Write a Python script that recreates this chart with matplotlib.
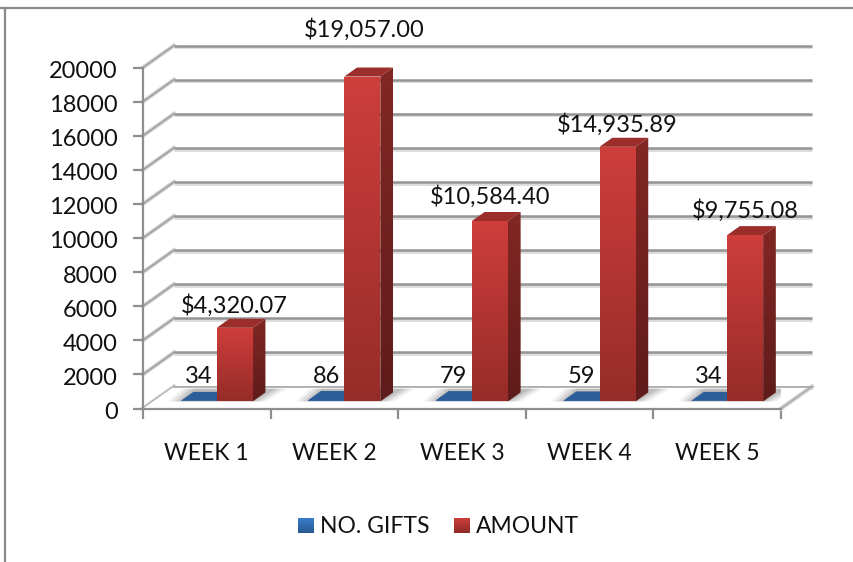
import matplotlib
matplotlib.use("Agg")
import matplotlib.pyplot as plt
import numpy as np
from matplotlib.colors import LinearSegmentedColormap
from matplotlib.lines import Line2D
from matplotlib.patches import Polygon
from matplotlib.transforms import ScaledTranslation

WEEKS = ["WEEK 1", "WEEK 2", "WEEK 3", "WEEK 4", "WEEK 5"]
GIFTS = [34, 86, 79, 59, 34]
AMOUNT = [4320.07, 19057.00, 10584.40, 14935.89, 9755.08]
Y_TICKS = list(range(0, 20001, 2000))

W, H = 854, 562
LEFT, RIGHT, BOTTOM, TOP = 143, 781, 408.5, 67.5

# oblique projection, depth goes from 0 (front) to 1 (back wall)
DEPTH_X = 31 / ((RIGHT - LEFT) / 5)
DEPTH_Y = 22 / ((BOTTOM - TOP) / 20000)
BAR_W = 36 / ((RIGHT - LEFT) / 5)
BAR_D0, BAR_D1 = 0.32, 0.73

GRAY = "#8E8E8E"
TEXT = "#111111"
plt.rcParams["font.family"] = ["Lato", "DejaVu Sans"]
FS = 17


def proj(x, y, d=0.0):
    return (x + d * DEPTH_X, y + d * DEPTH_Y)


def gradient_poly(ax, verts, top, bottom, zorder):
    cmap = LinearSegmentedColormap.from_list("g", [top, bottom])
    xs, ys = zip(*verts)
    poly = Polygon(verts, closed=True, fc="none", ec="none", transform=ax.transData, zorder=zorder)
    ax.add_patch(poly)
    im = ax.imshow(np.linspace(0, 1, 128).reshape(-1, 1), extent=[min(xs), max(xs), min(ys), max(ys)],
                   cmap=cmap, aspect="auto", origin="upper", zorder=zorder, clip_on=True, interpolation="bilinear")
    im.set_clip_path(poly)


def draw_box(ax, x0, x1, val, front, side, top, zorder):
    a = proj(x0, 0, BAR_D0)
    b = proj(x1, 0, BAR_D0)
    c = proj(x1, val, BAR_D0)
    d = proj(x0, val, BAR_D0)
    b2 = proj(x1, 0, BAR_D1)
    c2 = proj(x1, val, BAR_D1)
    d2 = proj(x0, val, BAR_D1)
    gradient_poly(ax, [b, b2, c2, c], side[0], side[1], zorder)
    ax.add_patch(Polygon([d, c, c2, d2], closed=True, fc=top, ec="none", zorder=zorder + 0.1, clip_on=False))
    gradient_poly(ax, [a, b, c, d], front[0], front[1], zorder + 0.2)


fig = plt.figure(figsize=(W / 100, H / 100), dpi=100)
ax = fig.add_axes([LEFT / W, 1 - BOTTOM / H, (RIGHT - LEFT) / W, (BOTTOM - TOP) / H])
ax.patch.set_alpha(0)
for s in ["top", "right"]:
    ax.spines[s].set_visible(False)
for s in ["left", "bottom"]:
    ax.spines[s].set_color(GRAY)
    ax.spines[s].set_linewidth(1.6)

# chart border, only top and left are inside the crop
fig.add_artist(Line2D([0, 1], [1 - 8 / H, 1 - 8 / H], color="#8A8A8A", lw=1.6, transform=fig.transFigure))
fig.add_artist(Line2D([5 / W, 5 / W], [0, 1 - 8 / H], color="#8A8A8A", lw=1.6, transform=fig.transFigure))

# back wall grid and left wall
for v in Y_TICKS:
    p0 = proj(0, v, 1)
    p1 = proj(5, v, 1)
    s = 0.9 * 20000 / (BOTTOM - TOP) * 2
    ax.plot([p0[0], p1[0]], [p0[1] - s, p1[1] - s], color="#DADADA", lw=2.0, zorder=1, clip_on=False,
            solid_capstyle="butt")
    ax.plot([p0[0], p1[0]], [p0[1], p1[1]], color="#949494", lw=1.8, zorder=1.1, clip_on=False,
            solid_capstyle="butt")
    f = proj(0, v, 0)
    ax.plot([f[0], p0[0]], [f[1], p0[1]], color="#D5D5D5", lw=3.0, zorder=1, clip_on=False)
    ax.plot([f[0], p0[0]], [f[1], p0[1]], color="#A0A0A0", lw=1.2, zorder=1.1, clip_on=False)

# floor
f0, f1, f2, f3 = proj(0, 0, 0), proj(5, 0, 0), proj(5, 0, 1), proj(0, 0, 1)
ax.add_patch(Polygon([f0, f1, f2, f3], closed=True, fc="white", ec="none", zorder=1.5, clip_on=False))
ax.plot([f1[0], f2[0]], [f1[1], f2[1]], color="#D0D0D0", lw=3.0, zorder=1.6, clip_on=False)
ax.plot([f1[0], f2[0]], [f1[1], f2[1]], color="#A8A8A8", lw=1.0, zorder=1.7, clip_on=False)
ax.plot([f3[0], f2[0]], [f3[1], f2[1]], color="#A8A8A8", lw=1.2, zorder=1.7, clip_on=False)

# bars, with soft floor shadow
centers = np.arange(len(WEEKS)) + 0.5
for i, (c, g, a) in enumerate(zip(centers, GIFTS, AMOUNT)):
    for grow, alpha in [(0.13, 0.10), (0.10, 0.14), (0.07, 0.18), (0.04, 0.22)]:
        sh = [proj(c - BAR_W - grow + 0.03, 0, 0.32), proj(c + BAR_W + grow - 0.03, 0, 0.32),
              proj(c + BAR_W + grow, 0, 0.9), proj(c - BAR_W - grow, 0, 0.9)]
        ax.add_patch(Polygon(sh, closed=True, fc="#808080", ec="none", alpha=alpha, zorder=2))
    draw_box(ax, c - BAR_W, c, g, ("#3A6FAE", "#2C5E9E"), ("#234B7A", "#1E4168"), "#2C5E9A", 3)
    draw_box(ax, c, c + BAR_W, a, ("#CE3E3B", "#962C29"), ("#822724", "#5F1C1A"), "#9B2D2A", 4)

# data labels, the week 2 one sits higher in the original
AMOUNT_DX = [0, 2, 0, 0, 0]
AMOUNT_DY = [22, 47, 24, 22, 25]
for i, c in enumerate(centers):
    px, py = proj(c, 0, BAR_D0)
    ax.annotate(str(GIFTS[i]), (px - BAR_W / 2, py), xytext=(0, 25), textcoords="offset pixels",
                ha="center", va="center", fontsize=FS, color=TEXT, zorder=6)
    top = proj(c + BAR_W / 2, AMOUNT[i], BAR_D0)
    ax.annotate(f"${AMOUNT[i]:,.2f}", top, xytext=(AMOUNT_DX[i], AMOUNT_DY[i]), textcoords="offset pixels",
                ha="center", va="center", fontsize=FS, color=TEXT, zorder=6, annotation_clip=False)

ax.set_xlim(0, 5)
ax.set_ylim(0, 20000)
ax.set_yticks(Y_TICKS)
ax.set_xticks(range(6))
ax.set_xticklabels([])
ax.set_xticks(centers, WEEKS, minor=True)
ax.tick_params(axis="both", which="major", color=GRAY, width=1.6, length=7.2, labelsize=FS, labelcolor=TEXT, pad=11)
ax.tick_params(axis="x", which="minor", length=0, labelsize=16.5, labelcolor=TEXT, pad=24.5)

# nudge y labels down a touch
nudge = ScaledTranslation(0, -2 / 100, fig.dpi_scale_trans)
for lbl in ax.get_yticklabels():
    lbl.set_transform(lbl.get_transform() + nudge)

# legend drawn by hand to get the gradient swatches
lax = fig.add_axes([0, 0, 1, 1], zorder=5)
lax.set_axis_off()
lax.set_xlim(0, W)
lax.set_ylim(H, 0)
for x, name, cols in [(298, "NO. GIFTS", ("#3A7CCB", "#2A5A93")), (454, "AMOUNT", ("#CE3E3B", "#8E2A27"))]:
    cmap = LinearSegmentedColormap.from_list("l", cols)
    lax.imshow(np.linspace(0, 1, 32).reshape(-1, 1), extent=[x, x + 16, 533, 518], cmap=cmap, aspect="auto")
    lax.text(x + 22, 526.5, name, ha="left", va="center", fontsize=16.5, color=TEXT)
lax.set_xlim(0, W)
lax.set_ylim(H, 0)

fig.savefig("out.png", dpi=100)
